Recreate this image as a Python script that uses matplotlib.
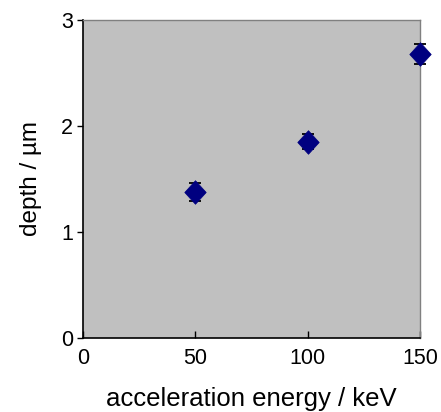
import matplotlib.pyplot as plt

plt.rcParams['font.family'] = ['Liberation Sans', 'DejaVu Sans']

energy = [50, 100, 150]
depth = [1.38, 1.85, 2.68]
depth_err = [0.086, 0.07, 0.095]
xticks = [0, 50, 100, 150]
yticks = [0, 1, 2, 3]

# diamond slightly taller than wide, like the original
diamond = [(-0.91, 0), (0, 1), (0.91, 0), (0, -1), (-0.91, 0)]

fig = plt.figure(figsize=(4.41, 4.12), dpi=100)
ax = fig.add_axes([83 / 441, 74 / 412, 337 / 441, 318 / 412])
ax.set_facecolor('#c0c0c0')

ax.errorbar(energy, depth, yerr=depth_err, fmt='none', ecolor='k',
            elinewidth=1, capsize=4.3, capthick=1.3, zorder=2, clip_on=False)
ax.plot(energy, depth, ls='none', marker=diamond, ms=17, mew=0.5,
        color='#000080', zorder=3, clip_on=False)

ax.set_xlim(0, 150)
ax.set_ylim(0, 3)
ax.set_xticks(xticks)
ax.set_yticks(yticks)
ax.tick_params(axis='x', direction='in', length=5, width=1, labelsize=15.5, pad=7)
ax.tick_params(axis='y', direction='out', length=4, width=1, labelsize=15.5, pad=3)
for s in ['left', 'bottom']:
    ax.spines[s].set_color('k')
    ax.spines[s].set_linewidth(1.2)
for s in ['top', 'right']:
    ax.spines[s].set_color('#808080')
    ax.spines[s].set_linewidth(1)

ax.set_xlabel('acceleration energy / keV', fontsize=18.5, labelpad=13)
ax.set_ylabel('depth / µm', fontsize=17.5, labelpad=14)

fig.savefig('out.png', dpi=100)
